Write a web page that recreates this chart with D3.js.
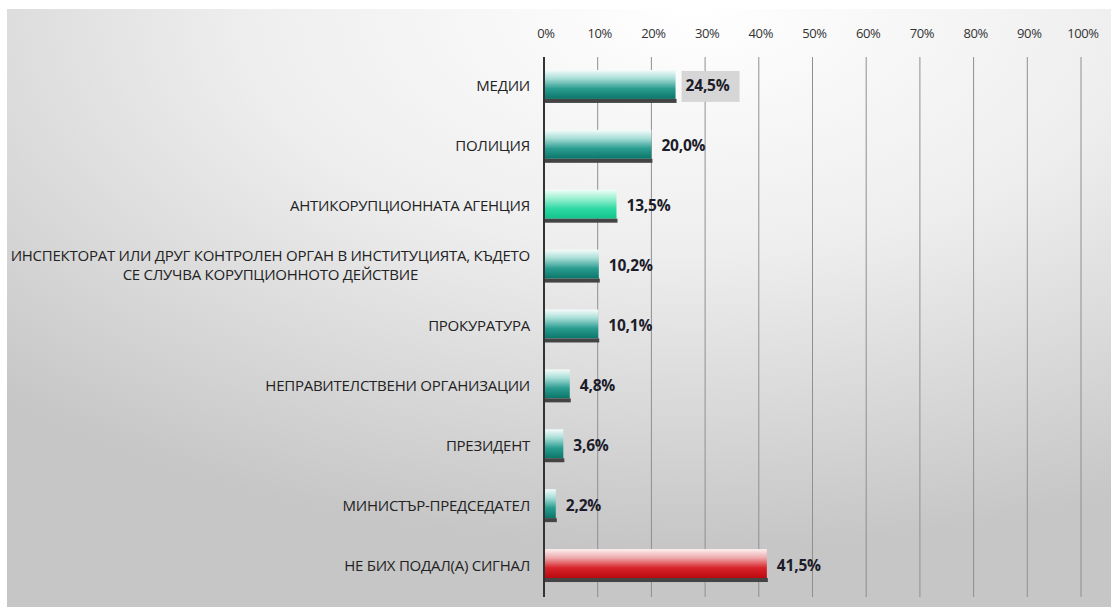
<!DOCTYPE html>
<html>
<head>
<meta charset="utf-8">
<script src="https://cdn.jsdelivr.net/npm/d3@7"></script>
<style>
  body { margin: 0; background: #fff; }
  svg { display: block; }
</style>
</head>
<body>
<div id="chart"></div>
<script>
// data
var categories = [
  "МЕДИИ",
  "ПОЛИЦИЯ",
  "АНТИКОРУПЦИОННАТА АГЕНЦИЯ",
  "ИНСПЕКТОРАТ ИЛИ ДРУГ КОНТРОЛЕН ОРГАН В ИНСТИТУЦИЯТА, КЪДЕТО|СЕ СЛУЧВА КОРУПЦИОННОТО ДЕЙСТВИЕ",
  "ПРОКУРАТУРА",
  "НЕПРАВИТЕЛСТВЕНИ ОРГАНИЗАЦИИ",
  "ПРЕЗИДЕНТ",
  "МИНИСТЪР-ПРЕДСЕДАТЕЛ",
  "НЕ БИХ ПОДАЛ(А) СИГНАЛ"
];
var values = [24.5, 20.0, 13.5, 10.2, 10.1, 4.8, 3.6, 2.2, 41.5];
var barKinds = ["teal", "teal", "green", "teal", "teal", "teal", "teal", "teal", "red"];
var ticks = [0, 10, 20, 30, 40, 50, 60, 70, 80, 90, 100];

var W = 1111, H = 607;

var svg = d3.select("#chart").append("svg")
  .attr("width", W).attr("height", H);

var defs = svg.append("defs");

// background panel gradient
var bg = defs.append("radialGradient").attr("id", "bg")
  .attr("cx", 0.62).attr("cy", 0.0).attr("r", 0.9)
  .attr("fx", 0.62).attr("fy", 0.0);
bg.append("stop").attr("offset", 0).attr("stop-color", "#ffffff");
bg.append("stop").attr("offset", 0.45).attr("stop-color", "#eeeeee");
bg.append("stop").attr("offset", 1).attr("stop-color", "#c6c6c6");

// bar gradients
var grads = {
  teal: [["0", "#f4fcfb"], ["0.3", "#a6ddd6"], ["0.65", "#2a9c90"], ["1", "#0b7669"]],
  green: [["0", "#effff9"], ["0.3", "#9cf0d2"], ["0.65", "#2fd9a3"], ["1", "#12c48c"]],
  red: [["0", "#fdf0f0"], ["0.3", "#eeaaac"], ["0.65", "#d8232a"], ["1", "#bb0a10"]]
};
Object.keys(grads).forEach(function(k) {
  var g = defs.append("linearGradient").attr("id", "g-" + k)
    .attr("x1", 0).attr("y1", 0).attr("x2", 0).attr("y2", 1);
  grads[k].forEach(function(s) {
    g.append("stop").attr("offset", s[0]).attr("stop-color", s[1]);
  });
});

svg.append("rect")
  .attr("x", 7).attr("y", 9).attr("width", W - 7).attr("height", H - 9)
  .attr("fill", "url(#bg)");

var x = d3.scaleLinear().domain([0, 100]).range([544, 1081]);
var y = d3.scaleBand().domain(categories).range([58, 594])
  .paddingInner(0.45).paddingOuter(0.2);

var gridTop = 57, gridBottom = 597;

// gridlines
svg.selectAll("line.grid")
  .data(ticks.slice(1))
  .enter().append("line")
  .attr("class", "grid")
  .attr("x1", d => x(d)).attr("x2", d => x(d))
  .attr("y1", gridTop).attr("y2", gridBottom)
  .attr("stroke", "#8f8f8f").attr("stroke-width", 1);

// top tick labels
svg.selectAll("text.tick")
  .data(ticks)
  .enter().append("text")
  .attr("class", "tick")
  .attr("x", d => x(d) + 2)
  .attr("y", 38)
  .attr("text-anchor", "middle")
  .attr("font-family", "Open Sans, sans-serif")
  .attr("font-size", 13)
  .attr("letter-spacing", -0.4)
  .attr("fill", "#333")
  .text(d => d + "%");

// highlighted value box on the first one
svg.append("rect")
  .attr("x", x(values[0]) + 6)
  .attr("y", y(categories[0]) + 1)
  .attr("width", 58)
  .attr("height", y.bandwidth() - 2)
  .attr("fill", "#d6d6d6");

// bars
var rows = svg.selectAll("g.row")
  .data(categories)
  .enter().append("g")
  .attr("class", "row");

rows.append("rect")
  .attr("x", x(0))
  .attr("y", d => y(d))
  .attr("width", (d, i) => x(values[i]) - x(0))
  .attr("height", y.bandwidth() - 4)
  .attr("fill", (d, i) => "url(#g-" + barKinds[i] + ")");

rows.append("rect")
  .attr("x", x(0))
  .attr("y", d => y(d) + y.bandwidth() - 4)
  .attr("width", (d, i) => x(values[i]) - x(0) + 1)
  .attr("height", 4)
  .attr("fill", "#444");

// value labels
rows.append("text")
  .attr("x", (d, i) => x(values[i]) + 10)
  .attr("y", d => y(d) + y.bandwidth() / 2 + 5)
  .attr("font-family", "Open Sans, sans-serif")
  .attr("font-weight", "bold")
  .attr("font-size", 15.5)
  .attr("letter-spacing", -0.2)
  .attr("fill", "#1c1c2a")
  .text((d, i) => d3.format(".1f")(values[i]).replace(".", ",") + "%");

// category labels
var labelRight = 530;
rows.each(function(d) {
  var lines = d.split("|");
  var g = d3.select(this);
  var cy = y(d) + y.bandwidth() / 2;
  if (lines.length == 1) {
    g.append("text")
      .attr("x", labelRight).attr("y", cy + 5)
      .attr("text-anchor", "end")
      .attr("font-family", "Open Sans, sans-serif")
      .attr("font-size", 15)
      .attr("letter-spacing", -0.25)
      .attr("fill", "#222")
      .text(d);
  } else {
    var ts = lines.map(function(l, j) {
      return g.append("text")
        .attr("y", cy - 5 + j * 19)
        .attr("text-anchor", "middle")
        .attr("font-family", "Open Sans, sans-serif")
        .attr("font-size", 15)
        .attr("letter-spacing", -0.25)
        .attr("fill", "#222")
        .text(l);
    });
    var w = d3.max(ts, t => t.node().getComputedTextLength());
    ts.forEach(t => t.attr("x", labelRight - w / 2));
  }
});

// axis line
svg.append("line")
  .attr("x1", x(0)).attr("x2", x(0))
  .attr("y1", gridTop).attr("y2", gridBottom)
  .attr("stroke", "#333").attr("stroke-width", 2);
</script>
</body>
</html>
